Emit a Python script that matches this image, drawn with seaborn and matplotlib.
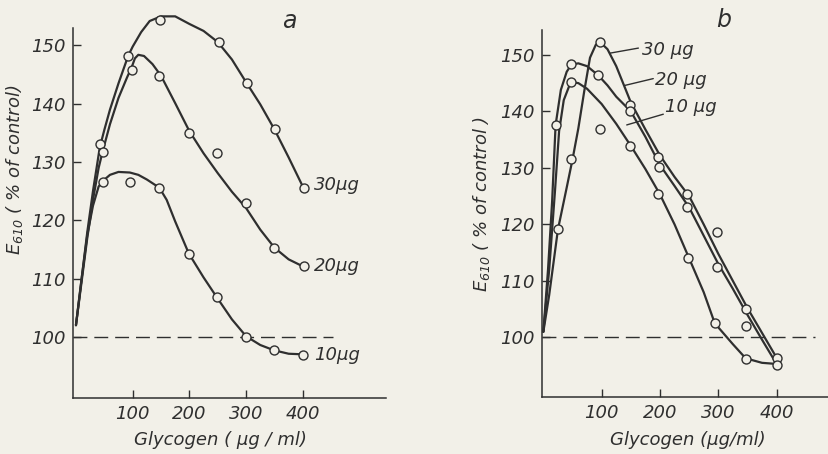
import matplotlib
matplotlib.use("Agg")
import matplotlib.pyplot as plt
import seaborn as sns

# ---------------- data ----------------
doses_a = ["30µg", "20µg", "10µg"]
doses_b = ["30 µg", "20 µg", "10 µg"]
x_ticks = [100, 200, 300, 400]
y_ticks = [100, 110, 120, 130, 140, 150]
control_level = 100

# Panel a - fitted curves
a30_cx = [0, 10, 20, 30, 42, 50, 60, 75, 92, 100, 115, 130, 150, 175, 200, 225, 250, 275, 300, 325, 350, 375, 400]
a30_cy = [102, 110, 118, 125, 132.5, 135.5, 139, 143.5, 148.2, 149.8, 152.3, 154.2, 155, 155, 153.7, 152.5, 150.6, 147.6, 143.7, 139.9, 135.6, 130.8, 125.8]
a20_cx = [0, 10, 20, 30, 40, 47, 60, 75, 90, 98, 104, 110, 120, 135, 150, 175, 200, 225, 250, 275, 300, 325, 350, 375, 400]
a20_cy = [102, 109.5, 117, 123.5, 129, 131.8, 136.5, 141, 144.5, 146.2, 147.8, 148.4, 148.2, 146.8, 144.8, 140.1, 135.3, 131.5, 128.1, 124.9, 122.1, 118.4, 115.3, 113.3, 112.1]
a10_cx = [0, 10, 20, 30, 40, 48, 60, 75, 95, 110, 125, 147, 160, 175, 199, 225, 249, 275, 300, 325, 349, 375, 400]
a10_cy = [102, 110, 117.5, 122.5, 125.8, 126.8, 127.8, 128.3, 128.2, 127.8, 127, 125.6, 123.5, 119.8, 114.3, 110.2, 106.7, 103, 100.1, 98.6, 97.7, 97.1, 97]
# Panel a - measured points
a30_px = [42, 92, 148, 252, 301, 351, 402]
a30_py = [133.1, 148.2, 154.3, 150.6, 143.6, 135.7, 125.6]
a20_px = [47, 98, 147, 199, 249, 300, 349, 402]
a20_py = [131.8, 145.8, 144.8, 134.9, 131.6, 122.9, 115.2, 112.1]
a10_px = [48, 95, 147, 199, 249, 300, 349, 400]
a10_py = [126.6, 126.5, 125.6, 114.2, 106.9, 100.0, 97.8, 96.9]

# Panel b - fitted curves
b30_cx = [0, 10, 25, 40, 50, 60, 70, 80, 90, 98, 110, 125, 150, 175, 200, 225, 250, 275, 300, 325, 350, 375, 400]
b30_cy = [101, 107.5, 119.1, 126.5, 131.5, 137, 143.5, 149.5, 151.8, 152.2, 151, 148, 141.6, 136.8, 132.2, 128.4, 125, 120, 114.8, 110, 105.2, 100.8, 96.4]
b20_cx = [0, 8, 15, 21, 30, 40, 48, 60, 75, 94, 110, 125, 150, 175, 200, 225, 250, 275, 300, 325, 350, 375, 400]
b20_cy = [101, 112, 124, 137.6, 143.8, 147, 148.3, 148.5, 148, 146.4, 144.6, 142.6, 140, 135.5, 130.5, 126.8, 123, 118, 113, 108.6, 104, 99.6, 95.3]
b10_cx = [0, 10, 20, 27, 35, 47, 60, 75, 100, 125, 150, 175, 200, 225, 250, 275, 294, 325, 347, 375, 400]
b10_cy = [101, 112, 126, 136.5, 142, 145.2, 145, 144, 141.3, 137.8, 133.9, 129.8, 125.3, 120, 114, 108, 102.5, 98.8, 96.3, 95.5, 95.3]
# Panel b - measured points
b30_px = [24.5, 47, 98, 148, 197, 247, 297, 347.5, 400]
b30_py = [119.1, 131.5, 152.2, 141.2, 132.0, 125.3, 118.6, 105.1, 96.4]
b20_px = [21, 48, 94, 148, 198, 246, 297, 347.5, 400]
b20_py = [137.6, 148.3, 146.4, 140.0, 130.2, 123.0, 112.4, 102.0, 95.2]
b10_px = [47, 98, 148, 196, 248, 294, 347]
b10_py = [145.2, 136.8, 133.9, 125.3, 114.0, 102.5, 96.1]

# ---------------- style ----------------
sns.set_theme(style="ticks")
FONTS = ["Liberation Sans Narrow", "DejaVu Sans"]
plt.rcParams["font.family"] = FONTS
plt.rcParams["font.style"] = "italic"
plt.rcParams["mathtext.fontset"] = "custom"
plt.rcParams["mathtext.it"] = "Liberation Sans Narrow:italic"
plt.rcParams["mathtext.rm"] = "Liberation Sans Narrow:italic"

BG = "#f2f0e8"
INK = "#2f2f2f"

fig = plt.figure(figsize=(8.29, 4.54), dpi=100, facecolor=BG)


def panel(ax, curves, points, xlim, ylim, dash_end):
    ax.set_facecolor(BG)
    for cx, cy in curves:
        sns.lineplot(x=cx, y=cy, ax=ax, sort=False, estimator=None,
                     color=INK, lw=1.6, clip_on=False, zorder=2)
    for px, py in points:
        sns.scatterplot(x=px, y=py, ax=ax, marker="o", s=42, color=BG,
                        edgecolor=INK, linewidth=1.0, zorder=3, clip_on=False)
    ax.hlines(control_level, xlim[0], dash_end, color=INK, lw=1.0,
              linestyles=(0, (10, 5)), zorder=1)
    ax.set_xlim(*xlim)
    ax.set_ylim(*ylim)
    ax.set_xticks(x_ticks)
    ax.set_yticks(y_ticks)
    ax.tick_params(direction="in", length=6, width=1.0, colors=INK,
                   labelsize=13, pad=5, labelcolor=INK)
    for s in ["top", "right"]:
        ax.spines[s].set_visible(False)
    for s in ["left", "bottom"]:
        ax.spines[s].set_color(INK)
        ax.spines[s].set_linewidth(1.1)
    ax.set_xlabel("")
    ax.set_ylabel("")


# Panel a
ax_a = fig.add_axes([0.088, 0.1233, 0.3776, 0.815])
panel(ax_a,
      [(a30_cx, a30_cy), (a20_cx, a20_cy), (a10_cx, a10_cy)],
      [(a30_px, a30_py), (a20_px, a20_py), (a10_px, a10_py)],
      (-5.3, 546.7), (89.5, 153.0), 453)
for lab, y in zip(doses_a, [126.0, 112.2, 96.9]):
    ax_a.text(420, y, lab, fontsize=13, color=INK, va="center", ha="left")
ax_a.text(377, 154.2, "a", fontsize=17, color=INK, va="center", ha="center", clip_on=False)

# Panel b
ax_b = fig.add_axes([0.6534, 0.1249, 0.3466, 0.809])
panel(ax_b,
      [(b30_cx, b30_cy), (b20_cx, b20_cy), (b10_cx, b10_cy)],
      [(b30_px, b30_py), (b20_px, b20_py), (b10_px, b10_py)],
      (-2.9, 489.9), (89.4, 154.4), 466)
leaders = [((114, 150.3), (163, 151.2), (170, 150.85)),
           ((140, 144.6), (188.5, 145.8), (191, 145.5)),
           ((143, 137.6), (205.7, 139.5), (208.6, 140.8))]
for lab, (p0, p1, pt) in zip(doses_b, leaders):
    ax_b.annotate("", xy=p0, xytext=p1,
                  arrowprops=dict(arrowstyle="-", color=INK, lw=1.0,
                                  shrinkA=0, shrinkB=0))
    ax_b.text(pt[0], pt[1], lab, fontsize=13, color=INK, va="center", ha="left")
ax_b.text(308.6, 156.2, "b", fontsize=17, color=INK, va="center", ha="center", clip_on=False)

# axis titles
fig.text(0.018, 0.6256, r"$E_{610}$ ( % of control)", rotation=90, fontsize=13,
         color=INK, ha="center", va="center")
fig.text(0.581, 0.55, r"$E_{610}$ ( % of control )", rotation=90, fontsize=13,
         color=INK, ha="center", va="center")
fig.text(0.2654, 0.031, "Glycogen ( µg / ml)", fontsize=13, color=INK,
         ha="center", va="center")
fig.text(0.83, 0.031, "Glycogen (µg/ml)", fontsize=13, color=INK,
         ha="center", va="center")

fig.savefig("out.png", dpi=100, facecolor=BG)
